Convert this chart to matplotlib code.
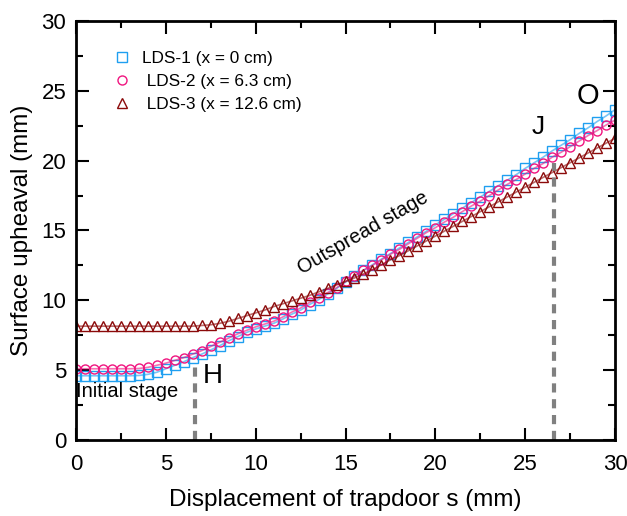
import numpy as np
import matplotlib
matplotlib.use("Agg")
import matplotlib.pyplot as plt
from matplotlib.ticker import MultipleLocator

plt.rcParams['font.family'] = ['Liberation Sans', 'DejaVu Sans']

# displacement of trapdoor s (mm), one reading every 0.5 mm
s = np.arange(0, 30.01, 0.5)

lds1 = [4.6, 4.6, 4.6, 4.6, 4.6, 4.6, 4.6, 4.62, 4.7, 4.85,
        5.1, 5.35, 5.6, 5.9, 6.15, 6.45, 6.75, 7.1, 7.4, 7.7,
        7.95, 8.15, 8.35, 8.65, 9.0, 9.3, 9.7, 10.05, 10.45, 10.85,
        11.3, 11.75, 12.15, 12.55, 12.95, 13.35, 13.75, 14.15, 14.55, 14.95,
        15.4, 15.8, 16.2, 16.6, 17.0, 17.4, 17.8, 18.2, 18.6, 19.0,
        19.45, 19.85, 20.25, 20.7, 21.1, 21.5, 21.95, 22.35, 22.8, 23.2,
        23.65]

lds2 = [5.1, 5.1, 5.1, 5.1, 5.1, 5.1, 5.1, 5.12, 5.2, 5.35,
        5.5, 5.7, 5.9, 6.15, 6.4, 6.7, 7.0, 7.3, 7.6, 7.85,
        8.1, 8.3, 8.5, 8.8, 9.15, 9.45, 9.85, 10.2, 10.55, 10.9,
        11.35, 11.75, 12.15, 12.5, 12.9, 13.3, 13.65, 14.05, 14.45, 14.85,
        15.2, 15.6, 15.95, 16.35, 16.75, 17.1, 17.5, 17.9, 18.3, 18.65,
        19.05, 19.45, 19.8, 20.25, 20.6, 21.0, 21.4, 21.8, 22.15, 22.55,
        22.9]

lds3 = [8.15, 8.15, 8.15, 8.15, 8.15, 8.15, 8.15, 8.15, 8.15, 8.15,
        8.15, 8.15, 8.15, 8.15, 8.2, 8.25, 8.35, 8.5, 8.7, 8.9,
        9.1, 9.3, 9.55, 9.75, 9.95, 10.15, 10.35, 10.6, 10.85, 11.1,
        11.35, 11.6, 11.9, 12.2, 12.55, 12.9, 13.2, 13.55, 13.9, 14.25,
        14.6, 14.95, 15.3, 15.65, 16.0, 16.35, 16.7, 17.05, 17.4, 17.75,
        18.1, 18.45, 18.8, 19.15, 19.5, 19.85, 20.2, 20.55, 20.9, 21.25,
        21.6]

labels = ['LDS-1 (x = 0 cm)', ' LDS-2 (x = 6.3 cm)', ' LDS-3 (x = 12.6 cm)']
colors = ['#1f9ff0', '#f0147f', '#8b0a0a']
markers = ['s', 'o', '^']

# stage boundaries (H and J)
h_s, h_top = 6.6, 5.6
j_s, j_top = 26.6, 19.8

fig = plt.figure(figsize=(6.27, 5.16), dpi=100)
ax = fig.add_axes([0.1212, 0.1473, 0.8597, 0.812])

for y, c, m, lab in zip([lds1, lds2, lds3], colors, markers, labels):
    ax.plot(s, y, '-', color=c, lw=1.2, alpha=0.6)
    ax.plot(s, y, m, color=c, mfc='none', mec=c, ms=6.5, mew=1.0,
            linestyle='none', label=lab)

ax.plot([h_s, h_s], [0, h_top], '--', color='#808080', lw=3, dashes=(2.2, 1.6))
ax.plot([j_s, j_s], [0, j_top], '--', color='#808080', lw=3, dashes=(2.2, 1.6))

ax.text(7.6, 4.6, 'H', fontsize=20, ha='center', va='center')
ax.text(25.7, 22.4, 'J', fontsize=19, ha='center', va='center')
ax.text(28.5, 24.6, 'O', fontsize=21, ha='center', va='center')
ax.text(0.0, 3.5, 'Initial stage', fontsize=14.5, ha='left', va='center')
ax.text(16.0, 14.8, 'Outspread stage', fontsize=14.3, ha='center', va='center',
        rotation=30)

ax.set_xlim(0, 30)
ax.set_ylim(0, 30)
ax.xaxis.set_major_locator(MultipleLocator(5))
ax.xaxis.set_minor_locator(MultipleLocator(2.5))
ax.yaxis.set_major_locator(MultipleLocator(5))
ax.yaxis.set_minor_locator(MultipleLocator(2.5))
ax.tick_params(which='both', direction='in', top=True, right=True, width=1.5,
               labelsize=16)
ax.tick_params(which='major', length=9)
ax.tick_params(which='minor', length=5)
ax.tick_params(axis='x', pad=10)
ax.tick_params(axis='y', pad=7)
for sp in ax.spines.values():
    sp.set_linewidth(2)

ax.set_xlabel('Displacement of trapdoor s (mm)', fontsize=17.5, labelpad=10)
ax.set_ylabel('Surface upheaval (mm)', fontsize=17.5, labelpad=6)

ax.legend(loc='upper left', bbox_to_anchor=(0.04, 0.965), frameon=False,
          fontsize=12.4, handlelength=1.0, handletextpad=0.7, labelspacing=0.45)

fig.savefig('out.png', dpi=100)
